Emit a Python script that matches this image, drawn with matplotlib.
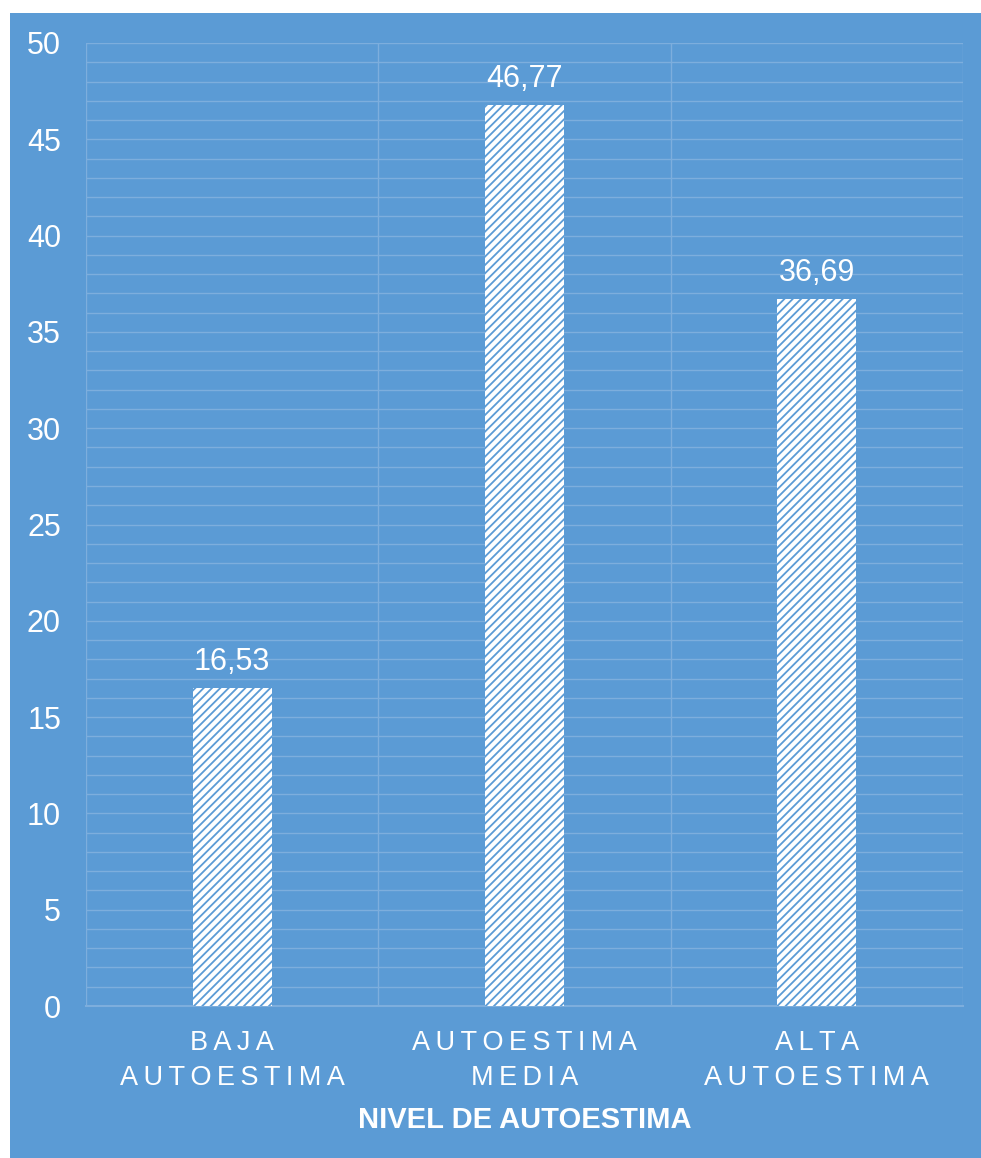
import matplotlib
matplotlib.use("Agg")
import matplotlib.pyplot as plt
from matplotlib.patches import Rectangle
from matplotlib.ticker import MultipleLocator

categories = ["BAJA\nAUTOESTIMA", "AUTOESTIMA\nMEDIA", "ALTA\nAUTOESTIMA"]
values = [16.53, 46.77, 36.69]
value_labels = ["16,53", "46,77", "36,69"]
yticks = [0, 5, 10, 15, 20, 25, 30, 35, 40, 45, 50]
xlabel = "NIVEL DE AUTOESTIMA"

BG = "#5B9BD5"
GRID = "#7DAEDD"
plt.rcParams['font.family'] = ['Liberation Sans', 'DejaVu Sans']
plt.rcParams['hatch.linewidth'] = 1.3
plt.rcParams['hatch.color'] = BG

W, H = 981, 1158
fig = plt.figure(figsize=(W / 100, H / 100), dpi=100, facecolor="white")
fig.patches.append(Rectangle((10 / W, 0), 1, (H - 13) / H, transform=fig.transFigure,
                             facecolor=BG, edgecolor="none", zorder=-10))

ax = fig.add_axes([86 / W, 1 - 1006 / H, (963 - 86) / W, (1006 - 43) / H])
ax.set_facecolor(BG)
x = list(range(len(categories)))
bars = ax.bar(x, values, width=0.27, facecolor="white", edgecolor=BG, hatch="////",
              linewidth=0, zorder=3)

for xi, v, lab in zip(x, values, value_labels):
    ax.annotate(lab, (xi, v), xytext=(0, 8), textcoords="offset points",
                ha="center", va="bottom", color="white", fontsize=22, zorder=4)

ax.set_xlim(-0.5, len(categories) - 0.5)
ax.set_ylim(0, 50)
ax.set_yticks(yticks)
ax.yaxis.set_minor_locator(MultipleLocator(1))
ax.grid(True, which="both", axis="y", color=GRID, linewidth=1.0, zorder=1)
for b in range(len(categories) + 1):
    ax.axvline(b - 0.5, color=GRID, linewidth=1.0, zorder=1)
for s in ax.spines.values():
    s.set_visible(False)
ax.spines['bottom'].set_visible(True)
ax.spines['bottom'].set_color(GRID)
ax.spines['bottom'].set_linewidth(1.5)

ax.tick_params(axis="y", which="both", length=0, labelsize=22, labelcolor="white", pad=18)
ax.tick_params(axis="x", which="both", length=0)
ax.set_xticks(x)

thin = "\u2009"
spaced = ["\n".join(thin.join(list(line)) for line in c.split("\n")) for c in categories]
ax.set_xticklabels(spaced, fontsize=19.5, color="white", linespacing=1.45)
ax.tick_params(axis="x", pad=17)

ax.set_xlabel(xlabel, fontsize=21, fontweight="bold", color="white", labelpad=11)

fig.savefig("out.png", dpi=100, facecolor="white")
